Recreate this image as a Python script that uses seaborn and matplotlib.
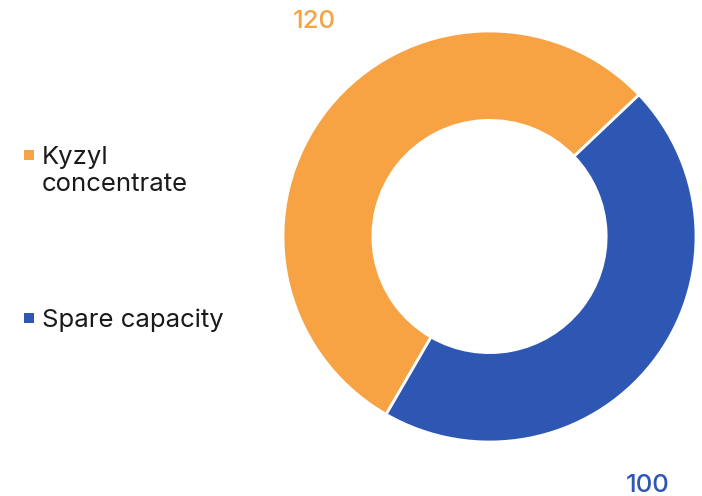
import matplotlib
matplotlib.use("Agg")
import matplotlib.pyplot as plt
import seaborn as sns
from matplotlib.patches import Rectangle

categories = ["Kyzyl\nconcentrate", "Spare capacity"]
values = [120, 100]
value_labels = ["120", "100"]
colors = ["#F7A343", "#2E57B3"]

sns.set_theme(style="white")
plt.rcParams['font.family'] = ['Inter', 'DejaVu Sans']

W, H = 702, 496
fig = plt.figure(figsize=(W / 100, H / 100), dpi=100)
fig.patch.set_facecolor("white")

# donut axes (pixel box: x 283..696, y 31..442)
ax = fig.add_axes([283 / W, (H - 442) / H, 413 / W, 411 / H])
wedges, _ = ax.pie(values, colors=colors, startangle=43.6, counterclock=True,
                   wedgeprops=dict(width=0.435, edgecolor="white", linewidth=2))
ax.set_xlim(-1, 1)
ax.set_ylim(-1, 1)
ax.set_aspect("auto")
ax.axis("off")

# value labels
fig.text(314 / W, 1 - 22 / H, value_labels[0], color=colors[0], fontsize=18.5,
         ha="center", va="center", fontweight="medium")
fig.text(648 / W, 1 - 485 / H, value_labels[1], color=colors[1], fontsize=18.5,
         ha="center", va="center", fontweight="medium")

# legend (manual)
legend_y = [155, 318]
for c, lab, yy in zip(colors, categories, legend_y):
    fig.add_artist(Rectangle((24 / W, 1 - (yy + 5) / H), 10 / W, 10 / H,
                             transform=fig.transFigure, facecolor=c, edgecolor="none"))
    fig.text(42 / W, 1 - (yy - 9) / H, lab, color="#1a1a1a", fontsize=18.5,
             ha="left", va="top", linespacing=1.22)

fig.savefig("out.png", dpi=100)
